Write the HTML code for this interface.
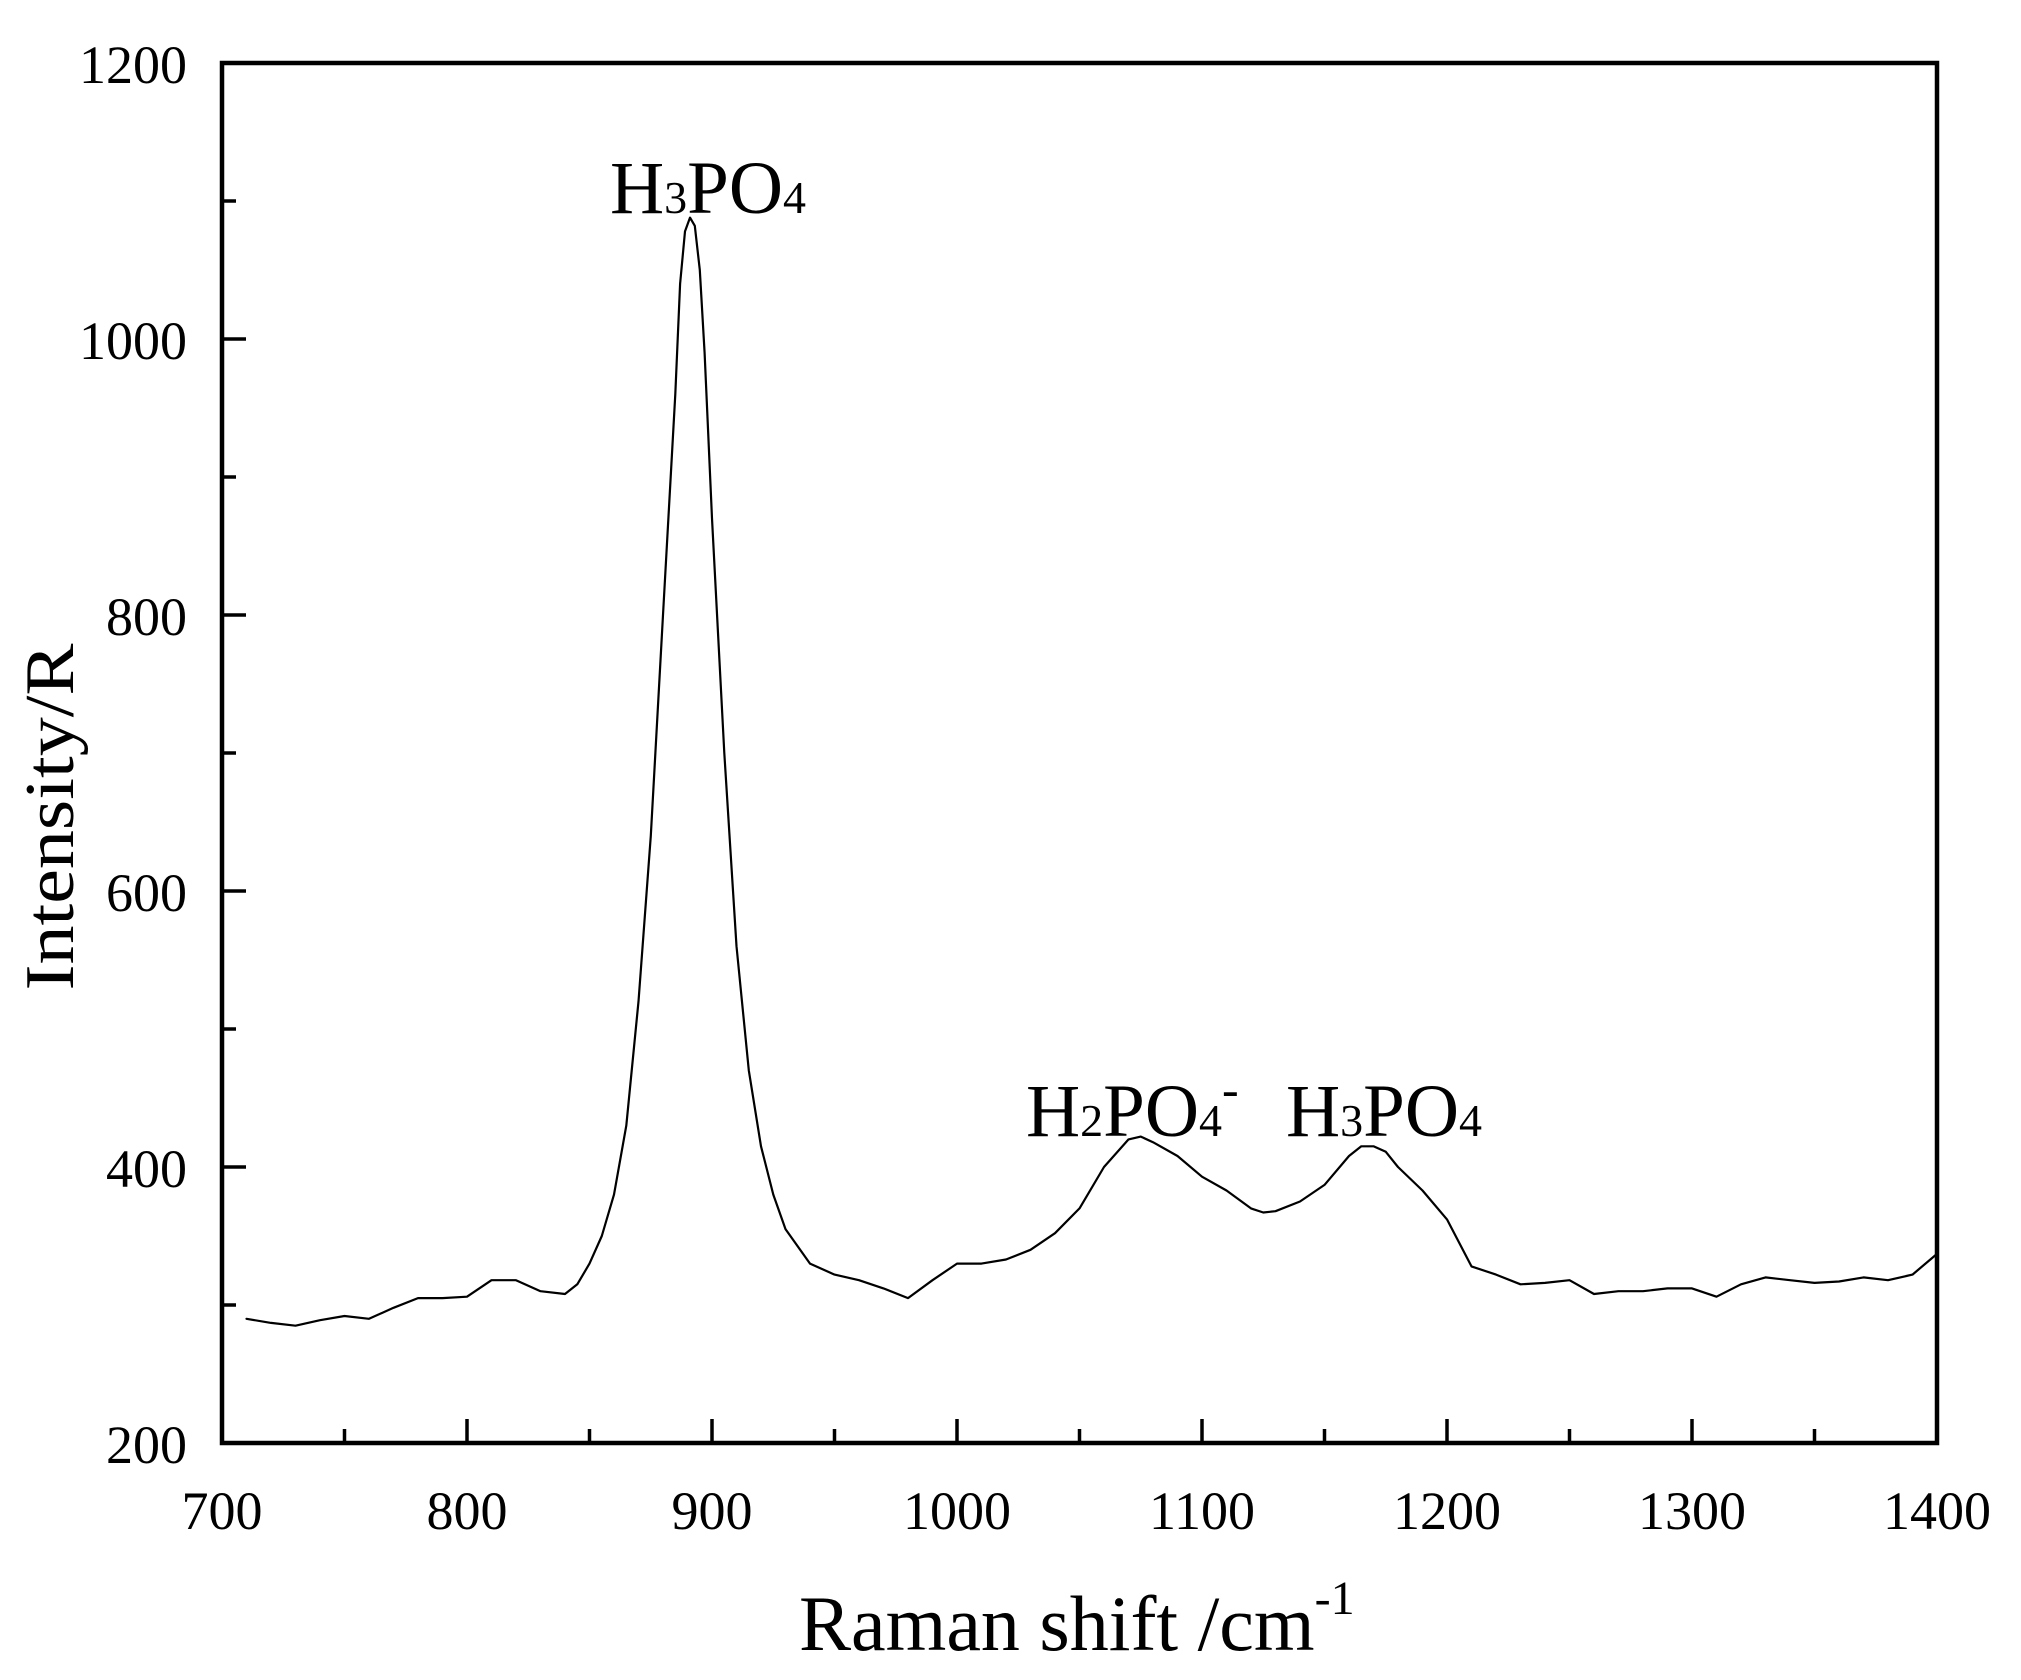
<!DOCTYPE html>
<html><head><meta charset="utf-8"><style>
html,body{margin:0;padding:0;background:#fff;}
svg{display:block;font-family:"Liberation Serif",serif;}
</style></head><body>
<svg id="chart" width="2021" height="1680" viewBox="0 0 2021 1680" xmlns="http://www.w3.org/2000/svg">
<rect x="0" y="0" width="2021" height="1680" fill="#fff"/>
<g id="ticks"></g>
<path id="series" fill="none" stroke="#000" stroke-width="2.2" stroke-linejoin="round" stroke-linecap="round"/>
<rect x="222" y="63" width="1715" height="1380" fill="none" stroke="#000" stroke-width="4.5"/>
<text x="610" y="213" font-size="75">H<tspan font-size="46">3</tspan>PO<tspan font-size="46">4</tspan></text>
<text x="1026" y="1136" font-size="75">H<tspan font-size="46">2</tspan>PO<tspan font-size="46">4</tspan><tspan font-size="50" dy="-30">-</tspan></text>
<text x="1286" y="1136" font-size="75">H<tspan font-size="46">3</tspan>PO<tspan font-size="46">4</tspan></text>
<text transform="translate(73,817) rotate(-90)" text-anchor="middle" font-size="70" textLength="347" lengthAdjust="spacingAndGlyphs">Intensity/R</text>
<text x="799" y="1650" font-size="78">Raman shift /cm<tspan font-size="48" dy="-36">-1</tspan></text>
</svg>
<script>
const xValues=[710,720,730,740,750,760,770,780,790,800,810,820,830,840,845,850,855,860,865,870,875,880,885,887,889,891,893,895,897,900,905,910,915,920,925,930,940,950,960,970,980,990,1000,1010,1020,1030,1040,1050,1060,1070,1075,1080,1090,1100,1110,1120,1125,1130,1140,1150,1160,1165,1170,1175,1180,1190,1200,1210,1220,1230,1240,1250,1260,1270,1280,1290,1300,1310,1320,1330,1340,1350,1360,1370,1380,1390,1400];
const intensity=[290,287,285,289,292,290,298,305,305,306,318,318,310,308,315,330,350,380,430,520,640,800,960,1040,1078,1088,1082,1050,990,870,700,560,470,415,380,355,330,322,318,312,305,318,330,330,333,340,352,370,400,420,422,418,408,393,383,370,367,368,375,387,408,415,415,411,400,383,362,328,322,315,316,318,308,310,310,312,312,306,315,320,318,316,317,320,318,322,337];
const xTickLabels=["700","800","900","1000","1100","1200","1300","1400"];
const yTickLabels=["200","400","600","800","1000","1200"];
const X0=222,X1=1937,Y0=1443,Y1=63;
function sx(v){return X0+(v-700)/(1400-700)*(X1-X0);}
function sy(v){return Y0-(v-200)/(1200-200)*(Y0-Y1);}
const NS="http://www.w3.org/2000/svg";
let d="";
xValues.forEach((x,i)=>{d+=(i?"L":"M")+sx(x).toFixed(1)+" "+sy(intensity[i]).toFixed(1);});
document.getElementById("series").setAttribute("d",d);
const g=document.getElementById("ticks");
function line(x1,y1,x2,y2){const l=document.createElementNS(NS,"line");
l.setAttribute("x1",x1);l.setAttribute("y1",y1);l.setAttribute("x2",x2);l.setAttribute("y2",y2);
l.setAttribute("stroke","#000");l.setAttribute("stroke-width","3.5");


g.appendChild(l);}
function txt(x,y,s,anchor){const t=document.createElementNS(NS,"text");
t.setAttribute("x",x);t.setAttribute("y",y);t.setAttribute("font-size","54");t.setAttribute("text-anchor",anchor);
t.textContent=s;


g.appendChild(t);}
for(let v=700;v<=1400;v+=50){const major=(v%100===0);const x=sx(v);line(x,Y0,x,Y0-(major?24:14));}
xTickLabels.forEach(s=>{txt(sx(+s),1529,s,"middle");});
for(let v=200;v<=1200;v+=100){const major=(v%200===0);const y=sy(v);line(X0,y,X0+(major?24:14),y);}
yTickLabels.forEach(s=>{txt(187,sy(+s)+20,s,"end");});
</script>
</body></html>
